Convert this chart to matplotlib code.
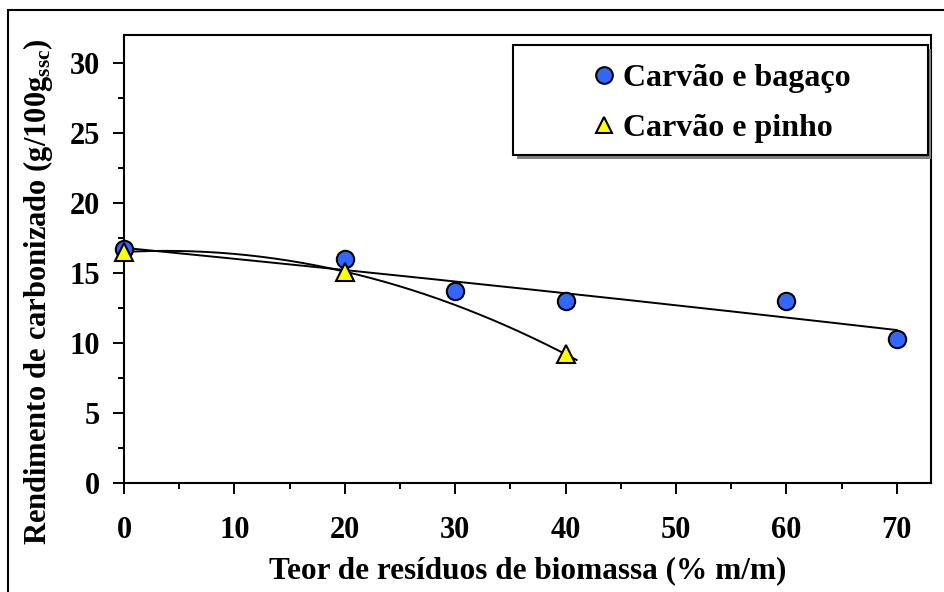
import numpy as np
import matplotlib
matplotlib.use('Agg')
import matplotlib.pyplot as plt
from matplotlib.patches import Rectangle
from matplotlib.lines import Line2D

plt.rcParams['font.family'] = ['Liberation Serif', 'DejaVu Serif']
plt.rcParams['font.weight'] = 'bold'
plt.rcParams['mathtext.fontset'] = 'custom'
plt.rcParams['mathtext.rm'] = 'Liberation Serif:bold'
plt.rcParams['mathtext.it'] = 'Liberation Serif:bold'
plt.rcParams['mathtext.bf'] = 'Liberation Serif:bold'

# data
x_bagaco = [0, 20, 30, 40, 60, 70]
y_bagaco = [16.7, 16.0, 13.7, 13.0, 13.0, 10.3]
x_pinho = [0, 20, 40]
y_pinho = [16.5, 15.1, 9.2]

label_bagaco = 'Carvão e bagaço'
label_pinho = 'Carvão e pinho'
x_ticks = [0, 10, 20, 30, 40, 50, 60, 70]
y_ticks = [0, 5, 10, 15, 20, 25, 30]

fig = plt.figure(figsize=(9.44, 5.92), dpi=100)
ax = fig.add_axes([124 / 944, 1 - 483 / 592, 807 / 944, 448 / 592])

# outer frame (cut off at right and bottom as in the original)
fig.patches.append(Rectangle((8 / 944, -0.1), 1.2, 1 - 10 / 592 + 0.1,
                             transform=fig.transFigure, fill=False,
                             lw=1.5, ec='black'))

# polynomial trend lines (2nd order), fitted to the points
cb = np.polyfit(x_bagaco, y_bagaco, 2)
xb = np.linspace(0, 70, 200)
ax.plot(xb, np.polyval(cb, xb), color='black', lw=1.4, zorder=2)

cp = np.polyfit(x_pinho, y_pinho, 2)
xp = np.linspace(0, 41, 200)
ax.plot(xp, np.polyval(cp, xp), color='black', lw=1.4, zorder=2)

ax.plot(x_bagaco, y_bagaco, 'o', ms=12.5, mfc='#3366FF', mec='black',
        mew=1.5, clip_on=False, zorder=3)
ax.plot(x_pinho, y_pinho, '^', ms=12.5, mfc='#FFFF00', mec='black',
        mew=1.5, clip_on=False, zorder=4)

ax.set_xlim(0, 73.1)
ax.set_ylim(0, 32)
ax.set_xticks(x_ticks)
ax.set_yticks(y_ticks)
ax.set_xticks(np.arange(5, 75, 10), minor=True)
ax.set_yticks(np.arange(2.5, 32, 5), minor=True)
ax.tick_params(axis='both', which='major', direction='out', length=8,
               width=1.4, labelsize=22)
ax.tick_params(axis='both', which='minor', direction='out', length=4.5,
               width=1.4)
ax.tick_params(axis='x', which='major', pad=16)
ax.tick_params(axis='y', which='major', pad=9)
for s in ax.spines.values():
    s.set_linewidth(1.5)

ax.set_xlabel('Teor de resíduos de biomassa (% m/m)', fontsize=22.5,
              fontweight='bold', labelpad=8)
ax.set_ylabel('Rendimento de carbonizado (g/100g$_{\\mathrm{ssc}}$)',
              fontsize=22, fontweight='bold')
ax.yaxis.set_label_coords(-0.086, 0.426)

# legend box with shadow
bx0, by0 = (513 - 124) / 807, (483 - 155) / 448
bw, bh = (928 - 513) / 807, (155 - 45) / 448
ax.add_patch(Rectangle((bx0 + 0.005, by0 - 0.009), bw, bh,
                       transform=ax.transAxes, fc='#808080', ec='none',
                       zorder=5))
ax.add_patch(Rectangle((bx0, by0), bw, bh, transform=ax.transAxes,
                       fc='white', ec='black', lw=1.5, zorder=6))
handles = [Line2D([], [], ls='none', marker='o', ms=12, mfc='#3366FF',
                  mec='black', mew=1.5),
           Line2D([], [], ls='none', marker='^', ms=12, mfc='#FFFF00',
                  mec='black', mew=1.5)]
leg = ax.legend(handles, [label_bagaco, label_pinho], loc='center',
                bbox_to_anchor=(bx0 + bw / 2 + 0.003, by0 + bh / 2 - 0.008),
                bbox_transform=ax.transAxes, frameon=False,
                prop={'size': 23, 'weight': 'bold'},
                handlelength=0.55, handletextpad=0.3, labelspacing=0.65,
                borderpad=0)
leg.set_zorder(7)

fig.savefig('out.png', dpi=100)
